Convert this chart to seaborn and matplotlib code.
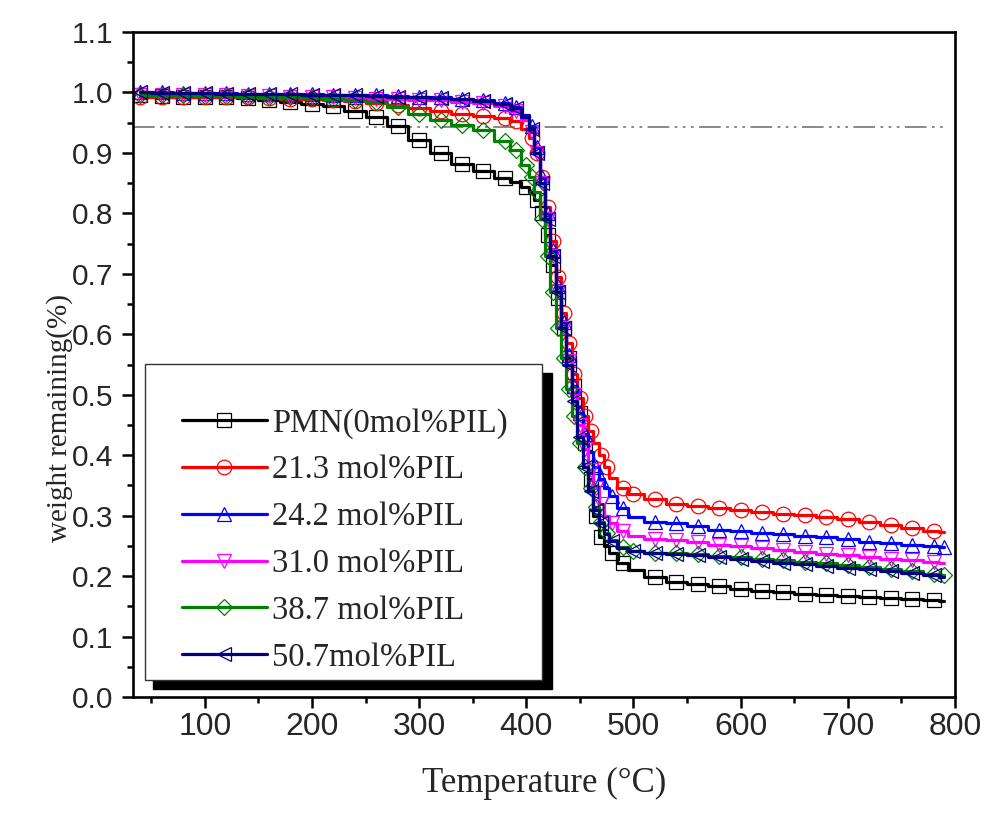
import pandas as pd
import seaborn as sns
import matplotlib.pyplot as plt
from matplotlib.lines import Line2D
from matplotlib.patches import Rectangle
from matplotlib.ticker import MultipleLocator, FormatStrFormatter

sns.set_theme(style="ticks")
plt.rcParams["font.family"] = ["Liberation Sans", "DejaVu Sans"]
SERIF = ["Liberation Serif", "DejaVu Serif"]

# temperature grid (deg C)
temps = [40, 60, 80, 100, 120, 140, 160, 180, 200, 220, 240, 260, 280, 300, 320, 340, 360, 380,
         390, 400, 405, 410, 415, 420, 425, 430, 435, 440, 445, 450, 455, 460, 465, 470, 475, 480,
         490, 500, 520, 540, 560, 580, 600, 620, 640, 660, 680, 700, 720, 740, 760, 780, 790]

pmn = [.995, .994, .993, .993, .992, .991, .988, .985, .981, .977, .970, .960, .945, .922, .900, .882, .870, .858,
       .852, .843, .835, .822, .800, .765, .715, .660, .610, .560, .515, .470, .420, .360, .300, .265, .250, .238,
       .222, .210, .198, .191, .187, .183, .179, .176, .173, .171, .169, .167, .165, .164, .162, .160, .158]

pil_213 = [.993, .993, .993, .993, .992, .992, .991, .990, .989, .988, .986, .983, .979, .975, .970, .965, .961, .957,
           .952, .940, .925, .900, .860, .810, .755, .695, .635, .585, .535, .495, .465, .440, .420, .400, .380, .362,
           .345, .335, .327, .320, .316, .312, .309, .306, .303, .301, .298, .294, .289, .284, .279, .275, .273]

pil_242 = [1.0, 1.0, .999, .999, .999, .998, .998, .997, .997, .996, .996, .995, .994, .993, .992, .990, .987, .982,
           .976, .963, .945, .910, .860, .800, .740, .680, .620, .565, .515, .470, .435, .405, .380, .360, .345, .332,
           .312, .298, .290, .287, .283, .277, .274, .272, .270, .267, .264, .261, .257, .254, .251, .249, .248]

pil_310 = [.996, .996, .995, .995, .995, .994, .994, .993, .993, .992, .991, .990, .989, .988, .987, .985, .982, .977,
           .970, .955, .935, .900, .850, .790, .730, .670, .610, .555, .500, .450, .410, .375, .345, .320, .300, .288,
           .275, .267, .262, .259, .256, .252, .249, .246, .243, .240, .237, .235, .232, .229, .226, .223, .222]

pil_387 = [.995, .995, .995, .994, .994, .993, .993, .992, .991, .990, .988, .984, .976, .964, .955, .947, .938, .920,
           .905, .880, .860, .835, .790, .730, .670, .610, .560, .510, .465, .420, .380, .345, .315, .290, .272, .260,
           .248, .242, .239, .238, .236, .234, .232, .229, .227, .224, .221, .218, .215, .212, .208, .204, .202]

pil_507 = [1.0, .999, .999, .999, .998, .998, .997, .997, .996, .996, .995, .994, .993, .992, .991, .989, .986, .981,
           .975, .960, .940, .900, .850, .790, .730, .670, .610, .550, .490, .430, .380, .340, .310, .287, .270, .258,
           .247, .241, .238, .237, .235, .231, .228, .225, .222, .220, .217, .214, .211, .208, .205, .201, .199]

labels = ["PMN(0mol%PIL)", "21.3 mol%PIL", "24.2 mol%PIL", "31.0 mol%PIL", "38.7 mol%PIL", "50.7mol%PIL"]
series = [pmn, pil_213, pil_242, pil_310, pil_387, pil_507]
colors = ["#000000", "#ff0000", "#0000ff", "#ff00ff", "#008000", "#000080"]
markers = ["s", "o", "^", "v", "D", "<"]
msizes = [9.5, 10.5, 9.5, 9.5, 8, 9.5]

fig = plt.figure(figsize=(9.9, 8.17), dpi=100)
ax = fig.add_axes([0.1343, 0.1469, 0.8303, 0.8139])

handles = []
for lab, vals, c, m, ms in zip(labels, series, colors, markers, msizes):
    sns.lineplot(x=temps, y=vals, ax=ax, color=c, lw=2.3, drawstyle="steps-mid",
                 marker=m, markersize=ms, mfc="none", mec=c, mew=0.9, markevery=0.019)
    handles.append(Line2D([], [], color=c, lw=2.3, marker=m, markersize=ms,
                          mfc="none", mec=c, mew=0.9))

# grey reference line
ax.axhline(0.943, xmin=0, xmax=0.99, color="#808080", lw=1.3,
           dashes=(12, 3, 1.5, 3, 1.5, 3, 1.5, 3), zorder=1)

ax.set_xlim(33, 800)
ax.set_ylim(0, 1.1)
ax.xaxis.set_major_locator(MultipleLocator(100))
ax.xaxis.set_minor_locator(MultipleLocator(50))
ax.yaxis.set_major_locator(MultipleLocator(0.1))
ax.yaxis.set_minor_locator(MultipleLocator(0.05))
ax.yaxis.set_major_formatter(FormatStrFormatter("%.1f"))

ax.tick_params(axis="both", which="major", direction="out", length=8, width=1.8,
               color="black", top=False, right=False)
ax.tick_params(axis="both", which="minor", direction="out", length=4.5, width=1.8,
               color="black", top=False, right=False)
ax.tick_params(axis="x", which="major", labelsize=23, pad=3)
ax.tick_params(axis="y", which="major", labelsize=21.5, pad=6)
for sp in ax.spines.values():
    sp.set_linewidth(1.9)
    sp.set_color("black")

ax.set_xlabel("Temperature (°C)", family=SERIF, fontsize=25)
ax.set_ylabel("weight remaining(%)", family=SERIF, fontsize=21)
ax.xaxis.set_label_coords(0.5, -0.105)
ax.yaxis.set_label_coords(-0.073, 0.42)

# legend box with solid black shadow
ax.add_patch(Rectangle((0.0243, 0.012), 0.4854, 0.475, transform=ax.transAxes,
                       facecolor="black", edgecolor="black", zorder=4.4, clip_on=False))
ax.add_patch(Rectangle((0.0146, 0.0256), 0.483, 0.4752, transform=ax.transAxes,
                       facecolor="white", edgecolor="#333333", lw=1.0, zorder=4.5, clip_on=False))
ax.legend(handles, labels, loc="upper left", bbox_to_anchor=(0.0596, 0.435),
          frameon=False, borderpad=0, borderaxespad=0, handlelength=2.6,
          handletextpad=0.15, labelspacing=0.5,
          prop={"family": SERIF, "size": 23.5})

fig.savefig("out.png", dpi=100)
